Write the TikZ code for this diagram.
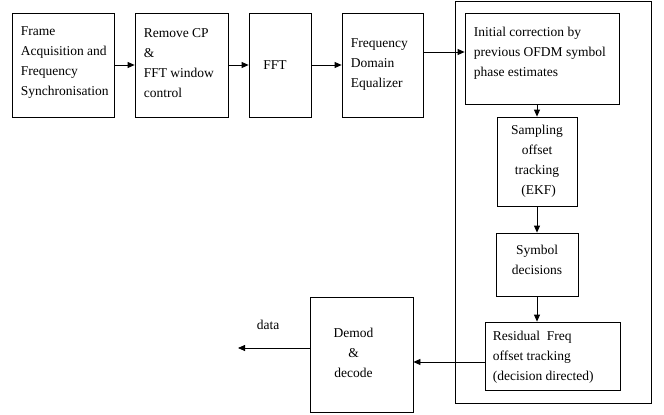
\documentclass[tikz,border=0pt]{standalone}
\usepackage{fontspec}
\setmainfont{Liberation Serif}
\usetikzlibrary{arrows.meta,calc}
\begin{document}
\begin{tikzpicture}[x=1pt,y=-1pt,
  box/.style={draw, line width=0.8pt, inner sep=0pt},
  lbl/.style={inner sep=0pt, font=\fontsize{13.5}{20}\selectfont},
  arr/.style={line width=0.8pt, -{Triangle[length=7pt,width=6pt]}},
  wire/.style={line width=0.8pt}]
\useasboundingbox (0,0) rectangle (664,415);

% front-end chain
\node[box, minimum width=102pt, minimum height=104pt] (b1) at (63,65) {};
\node[box, minimum width=93pt,  minimum height=104pt] (b2) at (181.5,65) {};
\node[box, minimum width=62pt,  minimum height=104pt] (b3) at (280,65) {};
\node[box, minimum width=81pt,  minimum height=104pt] (b4) at (382.5,65) {};

% tracking loop enclosure
\node[box, minimum width=196pt, minimum height=402pt] (outer) at (553,202) {};
\node[box, minimum width=154pt, minimum height=91pt] (init) at (542,58.5) {};
\node[box, minimum width=80pt,  minimum height=89pt] (samp) at (537,161.5) {};
\node[box, minimum width=82pt,  minimum height=63pt] (sym)  at (537,264.5) {};
\node[box, minimum width=135pt, minimum height=68pt] (res)  at (552.5,356) {};

% demodulation
\node[box, minimum width=103pt, minimum height=115pt] (dem) at (361.5,354.5) {};

% labels
\node[lbl, align=left, anchor=west] (t1) at ([xshift=9pt,yshift=2pt]b1.west)
  {Frame\\Acquisition and\\Frequency\\Synchronisation};
\node[lbl, align=left, anchor=west] (t2) at ([xshift=9pt,yshift=2pt]b2.west)
  {Remove CP\\\&\\FFT window\\control};
\node[lbl] (t3) at ([xshift=-5pt]b3.center) {FFT};
\node[lbl, align=left, anchor=west] (t4) at ([xshift=9pt]b4.west)
  {Frequency\\Domain\\Equalizer};
\node[lbl, align=left, anchor=west] (t5) at ([xshift=9pt,yshift=5pt]init.west)
  {Initial correction by\\previous OFDM symbol\\phase estimates};
\node[lbl, align=center] (t6) at (samp.center)
  {Sampling\\offset\\tracking\\\ (EKF)};
\node[lbl, align=center] (t7) at ([yshift=5pt]sym.center)
  {Symbol\\decisions};
\node[lbl, align=left, anchor=west] (t8) at ([xshift=8pt,yshift=-1pt]res.west)
  {Residual\ \ Freq\\offset tracking\\(decision directed)};
\node[lbl, align=center] (t9) at ([xshift=-8pt,yshift=2pt]dem.center)
  {Demod\\\&\\decode};

% connectors
\draw[arr] (b1) -- (b2);
\draw[arr] (b2) -- (b3);
\draw[arr] (b3) -- (b4);
\coordinate (e4) at ([yshift=13pt]b4.east);
\draw[arr] (e4) -- (e4 -| init.west);
\draw[arr] (samp.north |- init.south) -- (samp.north);
\draw[arr] (samp) -- (sym);
\draw[arr] (sym.south) -- (sym.south |- res.north);
\coordinate (er) at ([yshift=-6pt]res.west);
\draw[arr] (er) -- (er -| dem.east);
\coordinate (ed) at ([yshift=6.5pt]dem.west);
\coordinate (dataend) at (238,348);
\draw[arr] (ed) -- (ed -| dataend)
  node[lbl, pos=0.58, anchor=south, yshift=18pt] (datalbl) {data};
\end{tikzpicture}
\end{document}
